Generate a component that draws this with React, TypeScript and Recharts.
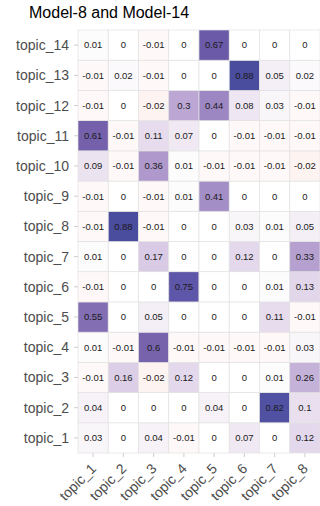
import { ScatterChart, Scatter, XAxis, YAxis } from "recharts";

const colTopics = ["topic_1", "topic_2", "topic_3", "topic_4", "topic_5", "topic_6", "topic_7", "topic_8"];
const rowTopics = [
  "topic_1", "topic_2", "topic_3", "topic_4", "topic_5", "topic_6", "topic_7",
  "topic_8", "topic_9", "topic_10", "topic_11", "topic_12", "topic_13", "topic_14",
];

// one array per Model-14 topic, values across Model-8 topic_1..topic_8
const topic1 = [0.03, 0, 0.04, -0.01, 0, 0.07, 0, 0.12];
const topic2 = [0.04, 0, 0, 0, 0.04, 0, 0.82, 0.1];
const topic3 = [-0.01, 0.16, -0.02, 0.12, 0, 0, 0.01, 0.26];
const topic4 = [0.01, -0.01, 0.6, -0.01, -0.01, -0.01, -0.01, 0.03];
const topic5 = [0.55, 0, 0.05, 0, 0, 0, 0.11, -0.01];
const topic6 = [-0.01, 0, 0, 0.75, 0, 0, 0.01, 0.13];
const topic7 = [0.01, 0, 0.17, 0, 0, 0.12, 0, 0.33];
const topic8 = [-0.01, 0.88, -0.01, 0, 0, 0.03, 0.01, 0.05];
const topic9 = [-0.01, 0, -0.01, 0.01, 0.41, 0, 0, 0];
const topic10 = [0.09, -0.01, 0.36, 0.01, -0.01, -0.01, -0.01, -0.02];
const topic11 = [0.61, -0.01, 0.11, 0.07, 0, -0.01, -0.01, -0.01];
const topic12 = [-0.01, 0, -0.02, 0.3, 0.44, 0.08, 0.03, -0.01];
const topic13 = [-0.01, 0.02, -0.01, 0, 0, 0.88, 0.05, 0.02];
const topic14 = [0.01, 0, -0.01, 0, 0.67, 0, 0, 0];

const rows = [topic1, topic2, topic3, topic4, topic5, topic6, topic7, topic8, topic9, topic10, topic11, topic12, topic13, topic14];

const W = 320;
const H = 506;
const TOP = 30;
const Y_AXIS_W = 78;
const X_AXIS_H = 53;
const CELL_W = (W - Y_AXIS_W) / colTopics.length;
const CELL_H = (H - TOP - X_AXIS_H) / rowTopics.length;

const cells = rows.flatMap((vals, r) =>
  vals.map((v, c) => ({ x: c + 1, y: r + 1, value: v }))
);

const posStops: [number, string][] = [
  [0, "#ffffff"],
  [0.07, "#f0e9f3"],
  [0.11, "#e6dced"],
  [0.3, "#bca7d4"],
  [0.44, "#9d87c2"],
  [0.61, "#7561ab"],
  [0.67, "#6b5aa8"],
  [0.75, "#5e56a8"],
  [0.82, "#5051a3"],
  [0.88, "#4a4c9e"],
];

function hexToRgb(h: string) {
  const n = parseInt(h.slice(1), 16);
  return [(n >> 16) & 255, (n >> 8) & 255, n & 255];
}

function mix(a: string, b: string, t: number) {
  const A = hexToRgb(a);
  const B = hexToRgb(b);
  const c = A.map((v, i) => Math.round(v + (B[i] - v) * t));
  return `rgb(${c[0]},${c[1]},${c[2]})`;
}

function fillFor(v: number) {
  if (v < 0) return mix("#ffffff", "#fdf3f0", Math.min(1, -v / 0.02));
  for (let i = 1; i < posStops.length; i++) {
    const [v0, c0] = posStops[i - 1];
    const [v1, c1] = posStops[i];
    if (v <= v1) return mix(c0, c1, (v - v0) / (v1 - v0));
  }
  return posStops[posStops.length - 1][1];
}

const Tile = (props: any) => {
  const { cx, cy, payload } = props;
  return (
    <g>
      <rect
        x={cx - CELL_W / 2}
        y={cy - CELL_H / 2}
        width={CELL_W}
        height={CELL_H}
        fill={fillFor(payload.value)}
        stroke="#e2e2e2"
        strokeWidth={0.7}
      />
      <text x={cx} y={cy} dy="0.35em" textAnchor="middle" fontSize={9.5} fill="#1a1a1a">
        {String(payload.value)}
      </text>
    </g>
  );
};

const XTick = (props: any) => {
  const { x, y, payload } = props;
  const tx = x + 4;
  const ty = y + 10.5;
  return (
    <text x={tx} y={ty} textAnchor="end" fontSize={14} fill="#4d4d4d" transform={`rotate(-45, ${tx}, ${ty})`}>
      {colTopics[payload.value - 1]}
    </text>
  );
};

export default function App() {
  return (
    <div style={{ position: "fixed", left: 0, top: 0, width: W, height: H, background: "#fff", fontFamily: "'Liberation Sans', Arial, sans-serif" }}>
      <div style={{ position: "absolute", left: 29, top: 5, fontSize: 16, lineHeight: 1, color: "#000" }}>
        Model-8 and Model-14
      </div>
      <ScatterChart width={W} height={H} margin={{ top: TOP - 4, right: 0, bottom: 0, left: 0 }}>
        <XAxis
          xAxisId="bottom"
          dataKey="x"
          type="number"
          domain={[0.5, 8.5]}
          ticks={[1, 2, 3, 4, 5, 6, 7, 8]}
          height={X_AXIS_H}
          axisLine={false}
          tickLine={{ stroke: "#cccccc" }}
          tickSize={4}
          tick={<XTick />}
        />
        <XAxis
          xAxisId="top"
          orientation="top"
          type="number"
          domain={[0.5, 8.5]}
          ticks={[1, 2, 3, 4, 5, 6, 7, 8]}
          height={4}
          axisLine={false}
          tickLine={{ stroke: "#cccccc" }}
          tickSize={4}
          tick={false}
        />
        <YAxis
          dataKey="y"
          type="number"
          domain={[0.5, 14.5]}
          ticks={rowTopics.map((_, i) => i + 1)}
          width={Y_AXIS_W}
          axisLine={false}
          tickLine={{ stroke: "#cccccc" }}
          tickSize={4}
          tickMargin={5}
          tickFormatter={(v: number) => rowTopics[v - 1]}
          tick={{ fontSize: 14, fill: "#4d4d4d" }}
        />
        <Scatter data={cells} xAxisId="bottom" shape={<Tile />} isAnimationActive={false} />
      </ScatterChart>
    </div>
  );
}
